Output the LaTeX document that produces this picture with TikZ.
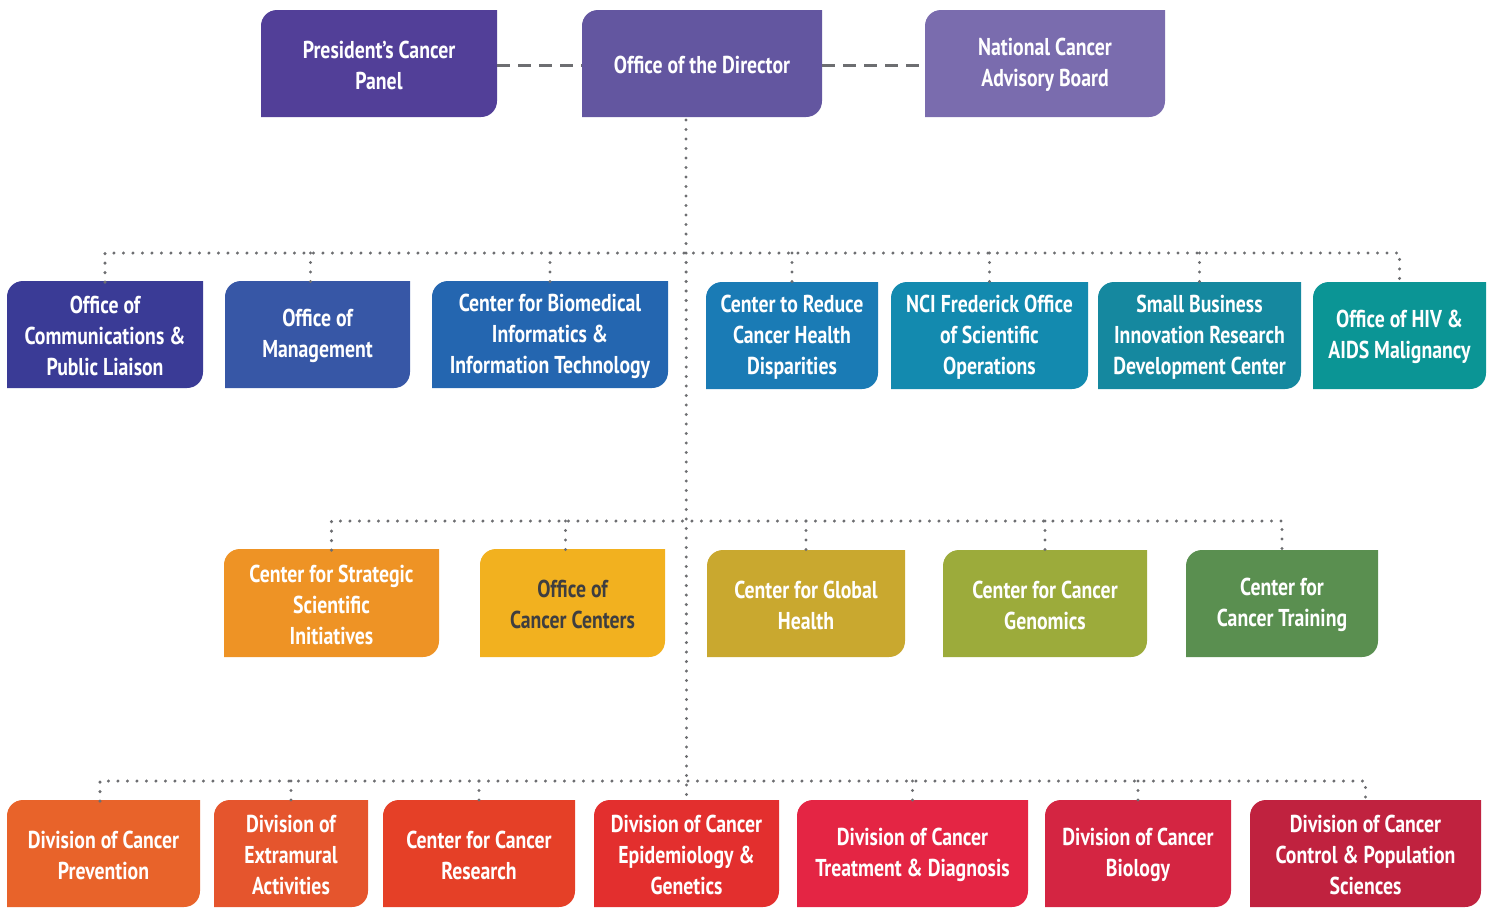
\documentclass[tikz,border=0pt]{standalone}
\usepackage{fontspec}
\setmainfont[FakeStretch=0.81]{PT Sans}
\usetikzlibrary{calc}
\definecolor{linegray}{HTML}{6D6E71}
\definecolor{cPCP}{HTML}{523F98}
\definecolor{cDIR}{HTML}{6356A0}
\definecolor{cNCAB}{HTML}{7A6CAE}
\definecolor{cOCPL}{HTML}{3A3B96}
\definecolor{cOM}{HTML}{3757A6}
\definecolor{cCBIIT}{HTML}{2466B0}
\definecolor{cCRCHD}{HTML}{1A7BB5}
\definecolor{cNFOSO}{HTML}{138AAF}
\definecolor{cSBIR}{HTML}{15889F}
\definecolor{cOHAAM}{HTML}{0B9595}
\definecolor{cCSSI}{HTML}{EE9325}
\definecolor{cOCC}{HTML}{F2B11F}
\definecolor{cCGH}{HTML}{C9A82F}
\definecolor{cCCG}{HTML}{9CAB3B}
\definecolor{cCCT}{HTML}{5A8F50}
\definecolor{cDCP}{HTML}{E8632A}
\definecolor{cDEA}{HTML}{E5552D}
\definecolor{cCCR}{HTML}{E54027}
\definecolor{cDCEG}{HTML}{E32F2E}
\definecolor{cDCTD}{HTML}{E42544}
\definecolor{cDCB}{HTML}{D42542}
\definecolor{cDCCPS}{HTML}{C0223F}
\definecolor{darktext}{HTML}{3E3E40}
\tikzset{
  boxtxt/.style={inner sep=0pt, align=center, text=white, font=\fontsize{12.2}{15.5}\selectfont\bfseries},
  dotline/.style={draw=linegray, line width=1.65pt, line cap=round, dash pattern=on 0pt off 4.75pt},
  dashline/.style={draw=linegray, line width=1.5pt, dash pattern=on 6.5pt off 4pt}
}
% [text colour]{name}{x1}{y1}{x2}{y2}{fill}{text}
\newcommand\obox[8][white]{%
  \fill[#7] (#3,#6) -- (#3,#4+16) .. controls (#3,#4+7) and (#3+7,#4) .. (#3+16,#4)
    -- (#5,#4) -- (#5,#6-16) .. controls (#5,#6-7) and (#5-7,#6) .. (#5-16,#6) -- cycle;
  \node[boxtxt, text=#1, minimum width={(#5-#3)*0.5pt}, minimum height={(#6-#4)*0.5pt}]
    (#2) at ({(#3+#5)/2},{(#4+#6)/2+1.5}) {#8};
}
\begin{document}
\begin{tikzpicture}[x=0.5pt,y=-0.5pt]
\useasboundingbox (0,0) rectangle (1495,907);
% top row
\obox{pcp}{261}{10}{497}{117}{cPCP}{President’s Cancer\\Panel}
\obox{dir}{582}{10}{822}{117}{cDIR}{Office of the Director}
\obox{ncab}{925}{10}{1165}{117}{cNCAB}{National Cancer\\Advisory Board}
% row 2
\obox{ocpl}{7}{281}{203}{388}{cOCPL}{Office of\\Communications \&\\Public Liaison}
\obox{om}{225}{281}{410}{388}{cOM}{Office of\\Management}
\obox{cbiit}{432}{281}{668}{388}{cCBIIT}{Center for Biomedical\\Informatics \&\\Information Technology}
\obox{crchd}{706}{282}{878}{389}{cCRCHD}{Center to Reduce\\Cancer Health\\Disparities}
\obox{nfoso}{891}{282}{1088}{389}{cNFOSO}{NCI Frederick Office\\of Scientific\\Operations}
\obox{sbir}{1098}{282}{1301}{389}{cSBIR}{Small Business\\Innovation Research\\Development Center}
\obox{ohaam}{1313}{282}{1486}{389}{cOHAAM}{Office of HIV \&\\AIDS Malignancy}
% row 3
\obox{cssi}{224}{549}{439}{657}{cCSSI}{Center for Strategic\\Scientific\\Initiatives}
\obox[darktext]{occ}{480}{549}{665}{657}{cOCC}{Office of\\Cancer Centers}
\obox{cgh}{707}{550}{905}{657}{cCGH}{Center for Global\\Health}
\obox{ccg}{943}{550}{1147}{657}{cCCG}{Center for Cancer\\Genomics}
\obox{cct}{1186}{550}{1378}{657}{cCCT}{Center for\\Cancer Training}
% row 4
\obox{dcp}{7}{800}{200}{907}{cDCP}{Division of Cancer\\Prevention}
\obox{dea}{214}{800}{368}{907}{cDEA}{Division of\\Extramural\\Activities}
\obox{ccr}{383}{800}{575}{907}{cCCR}{Center for Cancer\\Research}
\obox{dceg}{594}{800}{779}{907}{cDCEG}{Division of Cancer\\Epidemiology \&\\Genetics}
\obox{dctd}{797}{800}{1028}{907}{cDCTD}{Division of Cancer\\Treatment \& Diagnosis}
\obox{dcb}{1045}{800}{1231}{907}{cDCB}{Division of Cancer\\Biology}
\obox{dccps}{1250}{800}{1481}{907}{cDCCPS}{Division of Cancer\\Control \& Population\\Sciences}
% dashed links
\draw[dashline] (pcp.east) -- (dir.west);
\draw[dashline] (dir.east) -- (ncab.west);
% trunk and buses
\coordinate (trunk) at (686,120);
\coordinate (bus2) at (0,253);
\coordinate (bus3) at (0,521);
\coordinate (bus4) at (0,781);
\draw[dotline] (trunk) -- (dceg.north);
\draw[dotline] (ocpl.north) -- (ocpl.north |- bus2) -- (ohaam.north |- bus2) -- (ohaam.north);
\draw[dotline] ([xshift=-3.5pt]om.north |- bus2) -- ([xshift=-3.5pt]om.north);
\foreach \n in {cbiit,crchd,nfoso,sbir}{\draw[dotline] (\n.north |- bus2) -- (\n.north);}
\draw[dotline] (cssi.north) -- (cssi.north |- bus3) -- (cct.north |- bus3) -- (cct.north);
\draw[dotline] ([xshift=-3.5pt]occ.north |- bus3) -- ([xshift=-3.5pt]occ.north);
\foreach \n in {cgh,ccg}{\draw[dotline] (\n.north |- bus3) -- (\n.north);}
\draw[dotline] ([xshift=-1.75pt]dcp.north) -- ([xshift=-1.75pt]dcp.north |- bus4) -- (dccps.north |- bus4) -- (dccps.north);
\foreach \n in {dea,ccr,dctd,dcb}{\draw[dotline] (\n.north |- bus4) -- (\n.north);}
\end{tikzpicture}
\end{document}
